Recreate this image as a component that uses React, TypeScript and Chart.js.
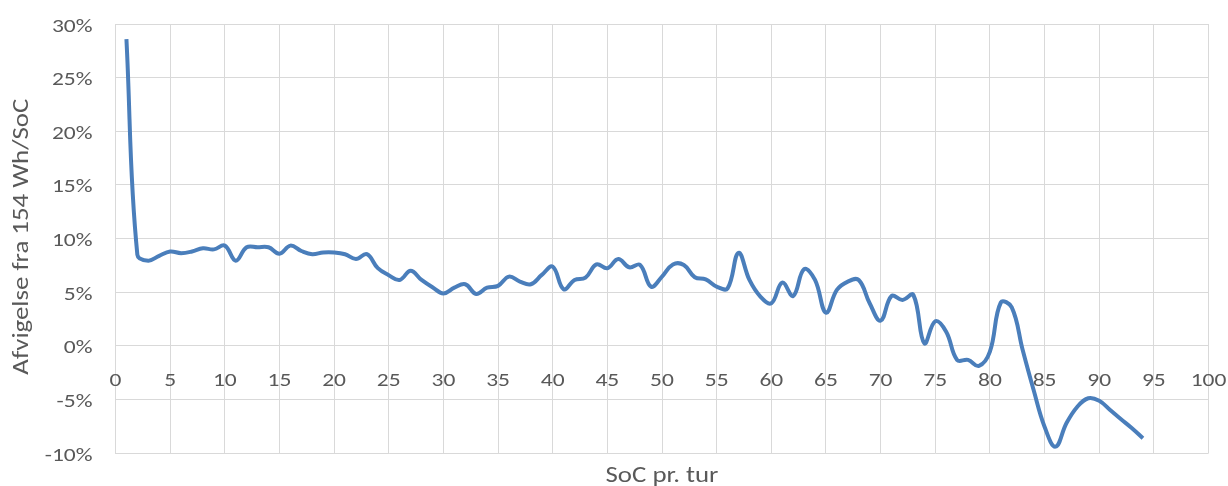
import React, { useEffect, useRef } from "react";
import { Chart, registerables } from "chart.js";

Chart.register(...registerables);

const socValues = [
  1, 2, 3, 4, 5, 6, 7, 8, 9, 10, 11, 12, 13, 14, 15, 16, 17, 18, 19, 20,
  21, 22, 23, 24, 25, 26, 27, 28, 29, 30, 31, 32, 33, 34, 35, 36, 37, 38, 39, 40,
  41, 42, 43, 44, 45, 46, 47, 48, 49, 50, 51, 52, 53, 54, 55, 56, 57, 58, 59, 60,
  61, 62, 63, 64, 65, 66, 67, 68, 69, 70, 71, 72, 73, 74, 75, 76, 77, 78, 79, 80,
  81, 82, 83, 84, 85, 86, 87, 88, 89, 90, 91, 92, 93, 94,
];

const deviationPct = [
  28.6, 8.5, 7.95, 8.4, 8.8, 8.65, 8.8, 9.1, 9.0, 9.35,
  7.95, 9.2, 9.2, 9.2, 8.6, 9.35, 8.85, 8.55, 8.72, 8.72,
  8.55, 8.1, 8.55, 7.25, 6.6, 6.15, 7.0, 6.15, 5.47, 4.9,
  5.43, 5.75, 4.85, 5.43, 5.6, 6.46, 6.0, 5.75, 6.62, 7.4,
  5.28, 6.15, 6.37, 7.6, 7.24, 8.1, 7.33, 7.55, 5.53, 6.46,
  7.6, 7.55, 6.4, 6.2, 5.53, 5.37, 8.67, 6.15, 4.6, 3.98,
  5.9, 4.66, 7.15, 6.15, 3.1, 5.22, 6.0, 6.15, 3.98, 2.36,
  4.66, 4.29, 4.75, 0.25, 2.3, 1.33, -1.3, -1.3, -1.86, -0.53,
  4.05, 3.6, -0.37, -4.1, -7.52, -9.38, -7.2, -5.66, -4.87, -5.1,
  -5.96, -6.83, -7.67, -8.6,
];

const xTickMin = 0;
const xTickMax = 100;
const xTickStep = 5;
const yTickMin = -10;
const yTickMax = 30;
const yTickStep = 5;

const xTitle = "SoC pr. tur";
const yTitle = "Afvigelse fra 154 Wh/SoC";

const FONT = "Calibri, Carlito, Lato, sans-serif";
const TEXT_COLOR = "#595959";
const GRID_COLOR = "#D9D9D9";
const LINE_COLOR = "#4A7EBB";

// Target plot area (pixels in the 1228x486 canvas)
const AREA = { left: 115.5, right: 1208.5, top: 24, bottom: 453.3 };

function stretchedText(ctx: any, text: string, x: number, y: number, align: string, sx: number) {
  ctx.save();
  ctx.translate(x, y);
  ctx.scale(sx, 1);
  ctx.textAlign = align;
  ctx.fillText(text, 0, 0);
  ctx.restore();
}

const textPlugin = {
  id: "axisText",
  beforeDatasetsDraw(chart: any) {
    const { ctx, chartArea } = chart;
    const xs = chart.scales.x;
    const ys = chart.scales.y;
    ctx.save();
    ctx.fillStyle = TEXT_COLOR;
    ctx.textBaseline = "alphabetic";
    ctx.font = `18.5px ${FONT}`;
    const zeroY = ys.getPixelForValue(0);
    xs.ticks.forEach((t: any, i: number) => {
      const px = xs.getPixelForTick(i);
      stretchedText(ctx, String(t.label), px, zeroY + 40.5, "center", 1.27);
    });
    ys.ticks.forEach((t: any, i: number) => {
      const py = ys.getPixelForTick(i);
      stretchedText(ctx, String(t.label), AREA.left - 23, py + 7.5, "right", 1.27);
    });
    ctx.font = `22px ${FONT}`;
    stretchedText(ctx, xTitle, (chartArea.left + chartArea.right) / 2, 482, "center", 1.22);
    ctx.translate(27.5, (chartArea.top + chartArea.bottom) / 2 - 2);
    ctx.rotate(-Math.PI / 2);
    stretchedText(ctx, yTitle, 0, 0, "center", 1.22);
    ctx.restore();
  },
};

const areaPlugin = {
  id: "fixArea",
  afterLayout(chart: any) {
    const ca = chart.chartArea;
    ca.left = AREA.left;
    ca.right = AREA.right;
    ca.top = AREA.top;
    ca.bottom = AREA.bottom;
    ca.width = AREA.right - AREA.left;
    ca.height = AREA.bottom - AREA.top;
    const xs = chart.scales.x;
    const ys = chart.scales.y;
    xs.left = AREA.left;
    xs.right = AREA.right;
    xs.width = AREA.right - AREA.left;
    ys.top = AREA.top;
    ys.bottom = AREA.bottom;
    ys.height = AREA.bottom - AREA.top;
    ys.left = 0;
    ys.right = AREA.left;
    ys.width = AREA.left;
    ys.configure();
    xs.configure();
  },
};

export default function App() {
  const canvasRef = useRef<HTMLCanvasElement | null>(null);

  useEffect(() => {
    if (!canvasRef.current) return;
    const points = socValues.map((x, i) => ({ x, y: deviationPct[i] }));
    const chart = new Chart(canvasRef.current, {
      type: "line",
      data: {
        datasets: [
          {
            data: points,
            borderColor: LINE_COLOR,
            backgroundColor: LINE_COLOR,
            borderWidth: 4,
            pointRadius: 0,
            tension: 0.4,
            fill: false,
          },
        ],
      },
      options: {
        animation: false,
        responsive: true,
        maintainAspectRatio: false,
        layout: { padding: { top: 24, right: 19.5, bottom: 32.7, left: 0 } },
        plugins: {
          legend: { display: false },
          tooltip: { enabled: false },
        },
        scales: {
          x: {
            type: "linear",
            position: { y: 0 } as any,
            min: xTickMin,
            max: xTickMax,
            ticks: {
              display: false,
              stepSize: xTickStep,
              autoSkip: false,
            },
            grid: { color: GRID_COLOR, lineWidth: 1, drawTicks: false },
            border: { color: GRID_COLOR, width: 1 },
          },
          y: {
            type: "linear",
            min: yTickMin,
            max: yTickMax,
            ticks: {
              display: false,
              stepSize: yTickStep,
              callback: (v: any) => `${v}%`,
            },
            grid: { color: GRID_COLOR, lineWidth: 1, drawTicks: false },
            border: { color: GRID_COLOR, width: 1 },
          },
        },
      },
      plugins: [areaPlugin, textPlugin],
    });
    return () => chart.destroy();
  }, []);

  return (
    <div style={{ position: "fixed", left: 0, top: 0, width: 1228, height: 486, background: "#fff" }}>
      <canvas ref={canvasRef} />
    </div>
  );
}
